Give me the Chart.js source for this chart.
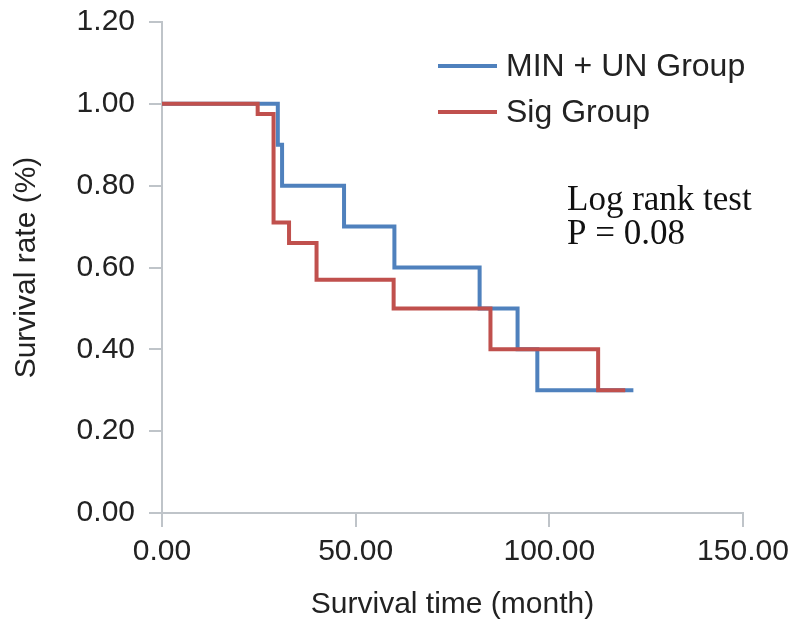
<!DOCTYPE html>
<html>
<head>
<meta charset="utf-8">
<script src="https://cdn.jsdelivr.net/npm/chart.js@4/dist/chart.umd.min.js"></script>
<style>
  html, body { margin: 0; padding: 0; background: #fff; }
  #wrap { width: 800px; height: 643px; }
</style>
</head>
<body>
<div id="wrap"><canvas id="chart"></canvas></div>
<script>
// survival curves
const seriesNames = ['MIN + UN Group', 'Sig Group']
const minUnTimes = [0, 29.9, 31, 47, 60, 82, 91.8, 96.9, 121.7]
const minUnRates = [1, 0.9, 0.8, 0.7, 0.6, 0.5, 0.4, 0.3, 0.3]
const sigTimes = [0, 24.7, 28.8, 32.8, 39.9, 59.8, 84.8, 112.6, 119.6]
const sigRates = [1, 0.975, 0.71, 0.66, 0.57, 0.5, 0.4, 0.3, 0.3]
const xTicks = [0, 50, 100, 150]
const yTicks = [0, 0.2, 0.4, 0.6, 0.8, 1.0, 1.2]
const noteLines = ['Log rank test', 'P = 0.08']

const axisColor = '#bfc4c9'
const textColor = '#222222'

function toPoints(times, rates) {
  return times.map((t, i) => ({ x: t, y: rates[i] }))
}

const legendAndNote = {
  id: 'legendAndNote',
  afterDraw(chart) {
    const ctx = chart.ctx
    ctx.save()
    ctx.font = '32px "Liberation Sans", Arial, sans-serif'
    ctx.textBaseline = 'middle'
    ctx.textAlign = 'left'
    chart.data.datasets.forEach((ds, i) => {
      const y = 66 + i * 46
      ctx.strokeStyle = ds.borderColor
      ctx.lineWidth = 4
      ctx.beginPath()
      ctx.moveTo(438, y)
      ctx.lineTo(497, y)
      ctx.stroke()
      ctx.fillStyle = textColor
      ctx.fillText(ds.label, 506, y + 1)
    })
    ctx.font = '35px "Liberation Serif", "Times New Roman", serif'
    ctx.textBaseline = 'alphabetic'
    ctx.fillStyle = '#111'
    noteLines.forEach((line, i) => {
      ctx.fillText(line, 567, 210 + i * 34)
    })
    ctx.restore()
  }
}

new Chart(document.getElementById('chart'), {
  type: 'line',
  data: {
    datasets: [
      {
        label: seriesNames[0],
        data: toPoints(minUnTimes, minUnRates),
        borderColor: '#4f81bd',
        borderWidth: 4,
        stepped: 'before',
        pointRadius: 0,
        fill: false,
        order: 1
      },
      {
        label: seriesNames[1],
        data: toPoints(sigTimes, sigRates),
        borderColor: '#c0504d',
        borderWidth: 4,
        stepped: 'before',
        pointRadius: 0,
        fill: false,
        order: 0
      }
    ]
  },
  options: {
    responsive: true,
    maintainAspectRatio: false,
    animation: false,
    layout: { padding: { top: 22, right: 57, left: 0, bottom: 0 } },
    plugins: {
      legend: { display: false },
      tooltip: { enabled: false }
    },
    scales: {
      x: {
        type: 'linear',
        min: 0,
        max: 150,
        afterFit(scale) { scale.height = 130 },
        afterBuildTicks(scale) { scale.ticks = xTicks.map(v => ({ value: v })) },
        grid: { drawOnChartArea: false, drawTicks: true, tickLength: 14, color: axisColor, lineWidth: 2 },
        border: { display: true, color: axisColor, width: 2 },
        ticks: {
          padding: 7,
          color: textColor,
          font: { family: '"Liberation Sans", Arial, sans-serif', size: 30 },
          maxRotation: 0,
          callback: v => Number(v).toFixed(2)
        },
        title: {
          display: true,
          text: 'Survival time (month)',
          color: textColor,
          font: { family: '"Liberation Sans", Arial, sans-serif', size: 30 },
          padding: { top: 0, bottom: 20 }
        }
      },
      y: {
        type: 'linear',
        min: 0,
        max: 1.2,
        afterFit(scale) {
          scale.width = 162
          scale.paddingTop = 0
          scale.paddingBottom = 0
        },
        afterBuildTicks(scale) { scale.ticks = yTicks.map(v => ({ value: v })) },
        grid: { drawOnChartArea: false, drawTicks: true, tickLength: 13, color: axisColor, lineWidth: 2 },
        border: { display: true, color: axisColor, width: 2 },
        ticks: {
          padding: 14,
          color: textColor,
          font: { family: '"Liberation Sans", Arial, sans-serif', size: 30 },
          callback: v => Number(v).toFixed(2)
        },
        title: {
          display: true,
          text: 'Survival rate (%)',
          color: textColor,
          font: { family: '"Liberation Sans", Arial, sans-serif', size: 30 },
          padding: { top: 9, bottom: 0 }
        }
      }
    }
  },
  plugins: [legendAndNote]
})
</script>
</body>
</html>
